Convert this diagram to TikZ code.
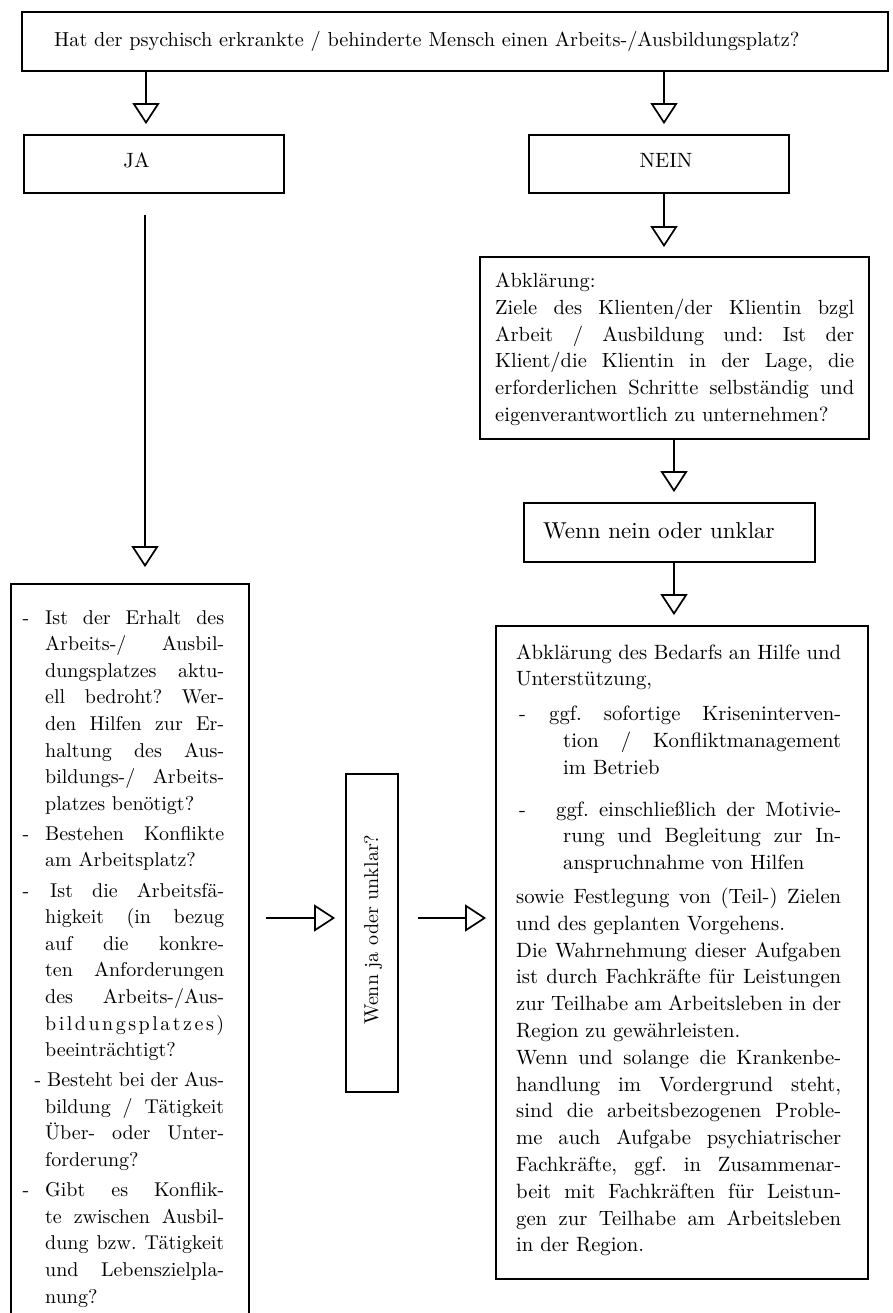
\documentclass[tikz,border=0pt]{standalone}
\usepackage{fontspec}
\setmainfont{lmroman10-regular}[Extension=.otf]
\usetikzlibrary{arrows.meta}
\hyphenpenalty=10000
\exhyphenpenalty=10000
\tolerance=10000
\frenchspacing
\begin{document}
\begin{tikzpicture}[x=1bp,y=-1bp,
  box/.style={draw=black, line width=1.8bp, inner sep=0pt, fill=none},
  txt/.style={inner sep=0pt, align=justify, anchor=base west},
  lbl/.style={inner sep=0pt},
  arr/.style={draw=black, line width=1.7bp, -{Triangle[open, length=21bp, width=27bp, line width=1.7bp]}}]
\clip (0,0) rectangle (892,1313);
\useasboundingbox (0,0) rectangle (892,1313);

% boxes
\node[box, minimum width=866bp, minimum height=59bp] (top) at (455,41.5) {};
\node[box, minimum width=260bp, minimum height=58bp] (ja) at (154,164) {};
\node[box, minimum width=260bp, minimum height=58bp] (nein) at (659,164) {};
\node[box, minimum width=389bp, minimum height=182bp] (abk) at (674.5,348) {};
\node[box, minimum width=291bp, minimum height=59bp] (wenn) at (669.5,532.5) {};
\node[box, minimum width=372bp, minimum height=653bp] (hilfe) at (682,952.5) {};
\node[box, minimum width=52bp, minimum height=318bp] (mid) at (372,933) {};
\node[box, minimum width=238bp, minimum height=760bp] (left) at (130,964) {};

% texts
\node[lbl, anchor=base west, font=\fontsize{20.3bp}{24bp}\selectfont] (toptxt) at (54,46.7)
  {Hat der psychisch erkrankte / behinderte Mensch einen Arbeits-/Ausbildungsplatz?};
\node[lbl, anchor=base, font=\fontsize{20.7bp}{24bp}\selectfont] (jatxt) at (136.5,168) {JA};
\node[lbl, anchor=base, font=\fontsize{20.7bp}{24bp}\selectfont] (neintxt) at (666,168) {NEIN};
\node[lbl, anchor=base west, font=\fontsize{23bp}{27bp}\selectfont] (wenntxt) at (543,538) {Wenn nein oder unklar};
\node[lbl, anchor=base west, rotate=90, font=\fontsize{20bp}{24bp}\selectfont] (midtxt) at (378,1025) {Wenn ja oder unklar?};

\node[txt, text width=359bp, font=\fontsize{20.5bp}{26.6bp}\selectfont] (abktxt) at (495,288)
 {\setlength\parindent{0pt}Abklärung:\newline
  Ziele des Klienten/der Klientin bzgl\linebreak
  Arbeit / Ausbildung und: Ist der\linebreak
  Klient/die Klientin in der Lage, die\linebreak
  erforderlichen Schritte selbständig und\linebreak
  eigenverantwortlich zu unternehmen?};

\node[txt, text width=325bp, font=\fontsize{20.7bp}{26.8bp}\selectfont] (hilfetxt) at (516,659)
 {\setlength\parindent{0pt}\noindent Abklärung des Bedarfs an Hilfe und\linebreak
  Unterstützung,\par\vspace{8bp}
  \noindent\hangindent=47bp\hangafter=1 \makebox[33bp][l]{\hspace{3bp}-}ggf. sofortige Kriseninterven-\linebreak
  tion / Konfliktmanagement\linebreak
  im Betrieb\par\vspace{15bp}
  \noindent\hangindent=47bp\hangafter=1 \makebox[40bp][l]{\hspace{3bp}-}ggf. einschließlich der Motivie-\linebreak
  rung und Begleitung zur In-\linebreak
  anspruchnahme von Hilfen\par\vspace{7bp}
  \noindent sowie Festlegung von (Teil-) Zielen\linebreak
  und des geplanten Vorgehens.\newline
  Die Wahrnehmung dieser Aufgaben\linebreak
  ist durch Fachkräfte für Leistungen\linebreak
  zur Teilhabe am Arbeitsleben in der\linebreak
  Region zu gewährleisten.\newline
  Wenn und solange die Krankenbe-\linebreak
  handlung im Vordergrund steht,\linebreak
  sind die arbeitsbezogenen Proble-\linebreak
  me auch Aufgabe psychiatrischer\linebreak
  Fachkräfte, ggf. in Zusammenar-\linebreak
  beit mit Fachkräften für Leistun-\linebreak
  gen zur Teilhabe am Arbeitsleben\linebreak
  in der Region.};

\node[txt, text width=179bp, font=\fontsize{20bp}{26.6bp}\selectfont] (lefttxt) at (45,624)
 {\setlength\parindent{0pt}\setlength\parskip{3.5bp}%
  \noindent\llap{-\hspace{16bp}}Ist der Erhalt des\linebreak
  Arbeits-/ Ausbil-\linebreak
  dungsplatzes aktu-\linebreak
  ell bedroht? Wer-\linebreak
  den Hilfen zur Er-\linebreak
  haltung des Aus-\linebreak
  bildungs-/ Arbeits-\linebreak
  platzes benötigt?\par
  \noindent\llap{-\hspace{16bp}}Bestehen Konflikte\linebreak
  am Arbeitsplatz?\par
  \noindent\llap{-\hspace{16bp}}\hspace*{5bp}Ist die Arbeitsfä-\linebreak
  higkeit (in bezug\linebreak
  auf die konkre-\linebreak
  ten Anforderungen\linebreak
  des Arbeits-/Aus-\linebreak
  \hbox to \linewidth{b\hfil i\hfil l\hfil d\hfil u\hfil n\hfil g\hfil s\hfil p\hfil l\hfil a\hfil t\hfil z\hfil e\hfil s\hfil )}\linebreak
  beeinträchtigt?\par
  \noindent\llap{-\hspace{4bp}}\hspace*{2bp}Besteht bei der Aus-\linebreak
  bildung / Tätigkeit\linebreak
  Über- oder Unter-\linebreak
  forderung?\par
  \noindent\llap{-\hspace{16bp}}Gibt es Konflik-\linebreak
  te zwischen Ausbil-\linebreak
  dung bzw. Tätigkeit\linebreak
  und Lebenszielpla-\linebreak
  nung?};

% connectors
\coordinate (xL) at (146,0);
\coordinate (xR) at (664,0);
\coordinate (xR2) at (674,0);
\coordinate (jastart) at (145,215);
\coordinate (h1) at (266,918);
\coordinate (h2) at (418,918);

\draw[arr, shorten >=10bp] (top.south -| xL) -- (ja.north -| xL);
\draw[arr, shorten >=10bp] (top.south -| xR) -- (nein.north -| xR);
\draw[arr, shorten >=9bp] (nein.south -| xR) -- (abk.north -| xR);
\draw[arr, shorten >=10bp] (abk.south -| xR2) -- (wenn.north -| xR2);
\draw[arr, shorten >=10bp] (wenn.south -| xR2) -- (hilfe.north -| xR2);
\draw[arr, shorten >=16bp] (jastart) -- (jastart |- left.north);
\draw[arr, shorten >=10bp] (h1) -- (h1 -| mid.west);
\draw[arr, shorten >=9bp] (h2) -- (h2 -| hilfe.west);
\end{tikzpicture}
\end{document}
